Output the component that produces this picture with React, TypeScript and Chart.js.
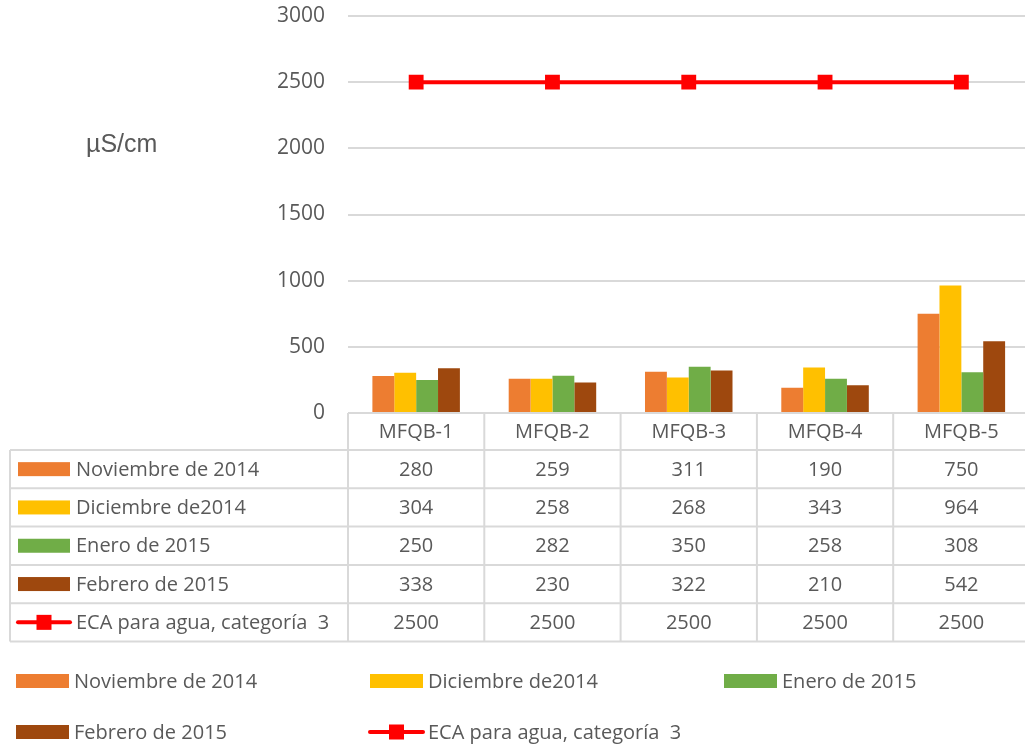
import React, { useEffect, useRef } from "react";
import { Chart, registerables } from "chart.js";

Chart.register(...registerables);

const categories = ["MFQB-1", "MFQB-2", "MFQB-3", "MFQB-4", "MFQB-5"];
const noviembre = [280, 259, 311, 190, 750];
const diciembre = [304, 258, 268, 343, 964];
const enero = [250, 282, 350, 258, 308];
const febrero = [338, 230, 322, 210, 542];
const eca = [2500, 2500, 2500, 2500, 2500];
const seriesNames = [
  "Noviembre de 2014",
  "Diciembre de2014",
  "Enero de 2015",
  "Febrero de 2015",
  "ECA para agua, categoría  3",
];
const seriesColors = ["#ED7D31", "#FFC000", "#70AD47", "#9E480E", "#FF0000"];
const yTicks = [0, 500, 1000, 1500, 2000, 2500, 3000];
const unitLabel = "µS/cm";

const FONT = "'Open Sans', sans-serif";
const TEXT = "#595959";
const LINE = "#d9d9d9";

function drawSwatch(ctx: CanvasRenderingContext2D, i: number, x0: number, x1: number, cy: number) {
  if (i < 4) {
    ctx.fillStyle = seriesColors[i];
    ctx.fillRect(x0, cy - 7, x1 - x0, 14);
  } else {
    ctx.strokeStyle = seriesColors[i];
    ctx.lineWidth = 4;
    ctx.lineCap = "round";
    ctx.beginPath();
    ctx.moveTo(x0, cy);
    ctx.lineTo(x1, cy);
    ctx.stroke();
    ctx.lineCap = "butt";
    ctx.fillStyle = seriesColors[i];
    const mx = (x0 + x1) / 2;
    ctx.fillRect(mx - 7.5, cy - 7.5, 15, 15);
  }
}

const tablePlugin = {
  id: "dataTable",
  afterDraw(chart: any) {
    const ctx: CanvasRenderingContext2D = chart.ctx;
    const xs = chart.scales.x;
    const area = chart.chartArea;
    const band = xs.getPixelForValue(1) - xs.getPixelForValue(0);
    const left0 = xs.getPixelForValue(0) - band / 2;
    const right = left0 + band * categories.length;
    const top = area.bottom;
    const headerBottom = top + 37;
    const rowH = 38.3;
    const rows = [noviembre, diciembre, enero, febrero, eca];
    const tableBottom = headerBottom + rowH * rows.length;
    const tableLeft = 10;

    ctx.save();
    ctx.strokeStyle = LINE;
    ctx.lineWidth = 2;
    for (let i = 0; i <= categories.length; i++) {
      const x = left0 + band * i;
      ctx.beginPath();
      ctx.moveTo(x, top);
      ctx.lineTo(x, tableBottom);
      ctx.stroke();
    }
    ctx.beginPath();
    ctx.moveTo(tableLeft, headerBottom);
    ctx.lineTo(tableLeft, tableBottom);
    ctx.stroke();
    ctx.beginPath();
    ctx.moveTo(left0, top);
    ctx.lineTo(right, top);
    ctx.stroke();
    for (let r = 0; r <= rows.length; r++) {
      const y = headerBottom + rowH * r;
      ctx.beginPath();
      ctx.moveTo(tableLeft, y);
      ctx.lineTo(right, y);
      ctx.stroke();
    }

    ctx.fillStyle = TEXT;
    ctx.font = `20px ${FONT}`;
    ctx.textBaseline = "middle";
    ctx.textAlign = "center";
    categories.forEach((c, i) => {
      ctx.fillText(c, xs.getPixelForValue(i), (top + headerBottom) / 2 + 1);
    });
    rows.forEach((vals, r) => {
      const cy = headerBottom + rowH * (r + 0.5);
      drawSwatch(ctx, r, 18, 70, cy);
      ctx.fillStyle = TEXT;
      ctx.textAlign = "left";
      ctx.fillText(seriesNames[r], 76, cy + 1);
      ctx.textAlign = "center";
      vals.forEach((v, i) => {
        ctx.fillText(String(v), xs.getPixelForValue(i), cy + 1);
      });
    });

    const legendPos = [
      [16, 681],
      [370, 681],
      [724, 681],
      [16, 732],
      [370, 732],
    ];
    seriesNames.forEach((name, i) => {
      const [lx, ly] = legendPos[i];
      drawSwatch(ctx, i, lx, lx + 53, ly);
      ctx.fillStyle = TEXT;
      ctx.textAlign = "left";
      ctx.fillText(name, lx + 58, ly + 1);
    });

    ctx.font = `25px 'Liberation Sans', Arial, sans-serif`;
    ctx.textAlign = "left";
    ctx.fillText(unitLabel, 86, 145);
    ctx.restore();
  },
};

export default function App() {
  const ref = useRef<HTMLCanvasElement>(null);
  useEffect(() => {
    if (!ref.current) return;
    const chart = new Chart(ref.current, {
      type: "bar",
      data: {
        labels: categories,
        datasets: [
          {
            type: "line",
            label: seriesNames[4],
            data: eca,
            borderColor: seriesColors[4],
            backgroundColor: seriesColors[4],
            borderWidth: 4,
            pointStyle: "rect",
            pointRadius: 10.5,
            pointHoverRadius: 10.5,
            pointBackgroundColor: seriesColors[4],
            pointBorderWidth: 0,
            order: 0,
          } as any,
          { label: seriesNames[0], data: noviembre, backgroundColor: seriesColors[0], order: 1 },
          { label: seriesNames[1], data: diciembre, backgroundColor: seriesColors[1], order: 1 },
          { label: seriesNames[2], data: enero, backgroundColor: seriesColors[2], order: 1 },
          { label: seriesNames[3], data: febrero, backgroundColor: seriesColors[3], order: 1 },
        ],
      },
      options: {
        responsive: false,
        animation: false,
        layout: { padding: { left: 0, top: 16, right: 7, bottom: 331 } },
        datasets: { bar: { categoryPercentage: 0.642, barPercentage: 1 } } as any,
        plugins: { legend: { display: false }, tooltip: { enabled: false } },
        scales: {
          x: { display: false },
          y: {
            min: 0,
            max: 3000,
            afterFit: (s: any) => {
              s.width = 348;
              s.paddingTop = 0;
              s.paddingBottom = 0;
            },
            afterBuildTicks: (s: any) => {
              s.ticks = yTicks.map((v) => ({ value: v }));
            },
            ticks: {
              font: { family: FONT, size: 21 },
              color: TEXT,
              padding: 23,
              callback: (v: any) => String(v),
            },
            grid: { color: LINE, lineWidth: 2, drawTicks: false },
            border: { display: false },
          },
        },
      },
      plugins: [tablePlugin],
    });
    return () => chart.destroy();
  }, []);
  return (
    <div
      style={{
        position: "fixed",
        left: 0,
        top: 0,
        width: 1025,
        height: 744,
        overflow: "hidden",
        background: "#fff",
      }}
    >
      <canvas ref={ref} width={1040} height={744} style={{ display: "block" }} />
    </div>
  );
}
